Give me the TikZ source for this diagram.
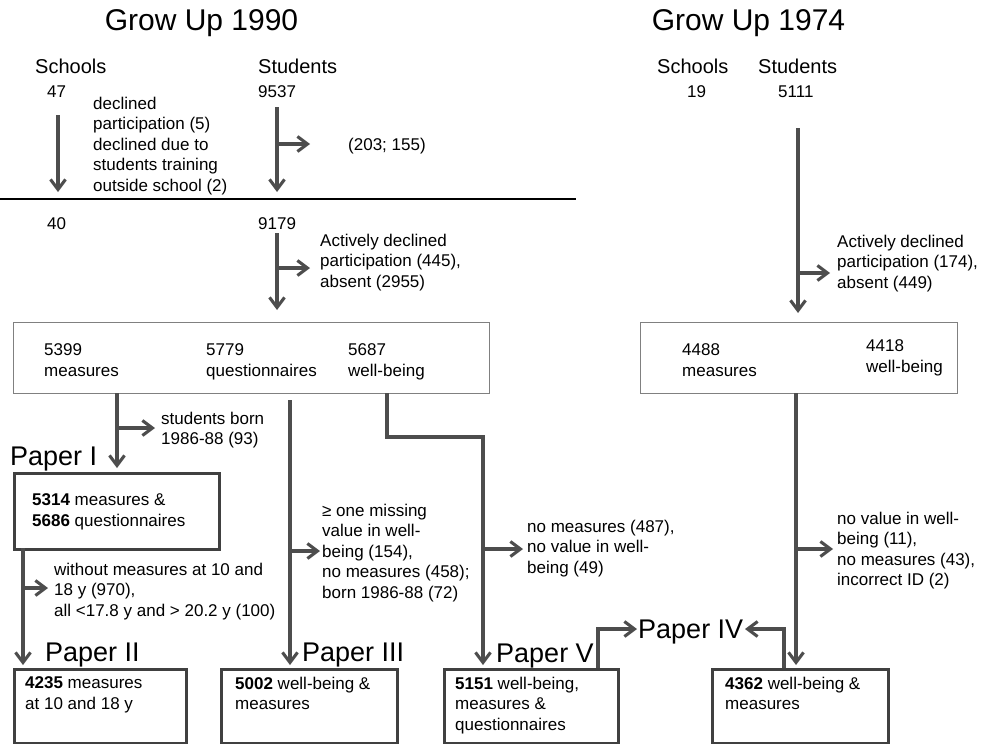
\documentclass[tikz,border=0pt]{standalone}
\usepackage{fontspec}
\setmainfont{Liberation Sans}
\usetikzlibrary{arrows.meta}
\definecolor{arrowgray}{RGB}{77,77,77}
\definecolor{boxgray}{RGB}{128,128,128}
\definecolor{paperedge}{RGB}{64,64,64}
\tikzset{
  txt/.style={font=\fontsize{17}{20.6}\selectfont, inner sep=0pt, align=left, anchor=north west, execute at begin node=\strut},
  one/.style={font=\fontsize{17}{20.6}\selectfont, inner sep=0pt, anchor=base west},
  head/.style={font=\fontsize{20}{24}\selectfont, inner sep=0pt, anchor=base west},
  title/.style={font=\fontsize{30}{36}\selectfont, inner sep=0pt, anchor=base},
  paperlbl/.style={font=\fontsize{27}{32}\selectfont, inner sep=0pt, anchor=base west},
  thinbox/.style={draw=boxgray, line width=1.4pt, anchor=north west, inner sep=0pt},
  paperbox/.style={draw=paperedge, line width=3.4pt, anchor=north west, inner sep=0pt},
  arr/.style={draw=arrowgray, line width=3.1pt, -{Straight Barb[length=10pt,width=15pt]}},
}
\begin{document}
\begin{tikzpicture}[x=1pt,y=-1pt]
\useasboundingbox (0,0) rectangle (985,744);

% titles
\node[title] (t90) at (201.5,30) {Grow Up 1990};
\node[title] (t74) at (748.5,30) {Grow Up 1974};

% headings
\node[head] (sch90) at (35,73) {Schools};
\node[head] (stu90) at (258,73) {Students};
\node[head] (sch74) at (657,73) {Schools};
\node[head] (stu74) at (758,73) {Students};

\node[one] (n47) at (47,97) {47};
\node[one] (n9537) at (258,97) {9537};
\node[one] (n19) at (687,97) {19};
\node[one] (n5111) at (778,97) {5111};

\node[txt] (decl) at (93,96.6) {declined\\participation (5)\\declined due to\\students training\\outside school (2)};
\node[one] (exc1) at (348,150) {(203; 155)};

% separator line
\coordinate (sepL) at (0,199);
\coordinate (sepR) at (576,199);
\draw[line width=1.3pt, black] (sepL) -- (sepR);

\node[one] (n40) at (47,229) {40};
\node[one] (n9179) at (258,229) {9179};

\node[txt] (act90) at (320,233.6) {Actively declined\\participation (445),\\absent (2955)};
\node[txt] (act74) at (837,234.6) {Actively declined\\participation (174),\\absent (449)};

% big boxes
\node[thinbox, minimum width=476pt, minimum height=71pt] (b90) at (13,322) {};
\node[txt] (m90) at (44,343.6) {5399\\measures};
\node[txt] (q90) at (206,343.6) {5779\\questionnaires};
\node[txt] (w90) at (348,343.6) {5687\\well-being};

\node[thinbox, minimum width=317pt, minimum height=71pt] (b74) at (640,322) {};
\node[txt] (m74) at (682,343.6) {4488\\measures};
\node[txt] (w74) at (866,339.6) {4418\\well-being};

% exclusion notes
\node[txt] (born) at (161,411.6) {students born\\1986-88 (93)};
\node[txt] (without) at (54,562.6) {without measures at 10 and\\18 y (970),\\all <17.8 y and > 20.2 y (100)};
\node[txt] (gem) at (322,503.6) {≥ one missing\\value in well-\\being (154),\\no measures (458);\\born 1986-88 (72)};
\node[txt] (nomeas) at (527,519.6) {no measures (487),\\no value in well-\\being (49)};
\node[txt] (noval) at (837,511.6) {no value in well-\\being (11),\\no measures (43),\\incorrect ID (2)};

% paper labels
\node[paperlbl] (lp1) at (10,465) {Paper I};
\node[paperlbl] (lp2) at (45,661) {Paper II};
\node[paperlbl] (lp3) at (302,661) {Paper III};
\node[paperlbl] (lp5) at (496,662) {Paper V};
\node[paperlbl] (lp4) at (638,638) {Paper IV};

% paper boxes
\node[paperbox, minimum width=205pt, minimum height=76pt] (p1) at (13,472) {};
\node[txt] (p1t) at (32,493.6) {\textbf{5314} measures \&\\\textbf{5686} questionnaires};
\node[paperbox, minimum width=172pt, minimum height=74pt] (p2) at (13,668) {};
\node[txt] (p2t) at (25,676.6) {\textbf{4235} measures\\at 10 and 18 y};
\node[paperbox, minimum width=176pt, minimum height=74pt] (p3) at (220,668) {};
\node[txt] (p3t) at (235,676.6) {\textbf{5002} well-being \&\\measures};
\node[paperbox, minimum width=174pt, minimum height=74pt] (p5) at (443,668) {};
\node[txt] (p5t) at (455,676.6) {\textbf{5151} well-being,\\measures \&\\questionnaires};
\node[paperbox, minimum width=176pt, minimum height=74pt] (p4) at (711,668) {};
\node[txt] (p4t) at (725,676.6) {\textbf{4362} well-being \&\\measures};

% ---- connectors ----
% schools 1990
\coordinate (sA) at (58,115); \coordinate (sB) at (58,192);
\draw[arr] (sA) -- (sB);
% students 1990, first stage
\coordinate (uA) at (277,107); \coordinate (uB) at (277,192);
\draw[arr] (uA) -- (uB);
\coordinate (uBr) at (277,144); \coordinate (uBe) at (310,144);
\draw[arr] (uBr) -- (uBe);
% students 1990, second stage
\coordinate (vA) at (277,233); \coordinate (vB) at (277,310);
\draw[arr] (vA) -- (vB);
\coordinate (vBr) at (277,268); \coordinate (vBe) at (310,268);
\draw[arr] (vBr) -- (vBe);
% students 1974
\coordinate (xA) at (798,128); \coordinate (xB) at (798,313);
\draw[arr] (xA) -- (xB);
\coordinate (xBr) at (798,273); \coordinate (xBe) at (830,273);
\draw[arr] (xBr) -- (xBe);
% measures -> Paper I
\coordinate (mA) at (117,393); \coordinate (mB) at (117,468);
\draw[arr] (mA) -- (mB);
\coordinate (mBr) at (117,428); \coordinate (mBe) at (155,428);
\draw[arr] (mBr) -- (mBe);
% questionnaires -> Paper III
\coordinate (qA) at (290,400); \coordinate (qB) at (290,665);
\draw[arr] (qA) -- (qB);
\coordinate (qBr) at (290,551); \coordinate (qBe) at (320,551);
\draw[arr] (qBr) -- (qBe);
% well-being -> Paper V
\coordinate (wA) at (387,393); \coordinate (wK1) at (387,437); \coordinate (wK2) at (483,437); \coordinate (wB) at (483,665);
\draw[arr] (wA) -- (wK1) -- (wK2) -- (wB);
\coordinate (wBr) at (483,549); \coordinate (wBe) at (523,549);
\draw[arr] (wBr) -- (wBe);
% Paper I -> Paper II
\coordinate (pA) at (23,548); \coordinate (pB) at (23,665);
\draw[arr] (pA) -- (pB);
\coordinate (pBr) at (23,588); \coordinate (pBe) at (48,588);
\draw[arr] (pBr) -- (pBe);
% 1974 box -> Paper IV box
\coordinate (yA) at (796,393); \coordinate (yB) at (796,665);
\draw[arr] (yA) -- (yB);
\coordinate (yBr) at (796,549); \coordinate (yBe) at (833,549);
\draw[arr] (yBr) -- (yBe);
% Paper V box -> Paper IV label
\coordinate (zA) at (598,668); \coordinate (zK) at (598,629); \coordinate (zB) at (637,629);
\draw[arr] (zA) -- (zK) -- (zB);
% Paper IV box -> Paper IV label
\coordinate (rA) at (784,668); \coordinate (rK) at (784,629); \coordinate (rB) at (745,629);
\draw[arr] (rA) -- (rK) -- (rB);
\end{tikzpicture}
\end{document}
